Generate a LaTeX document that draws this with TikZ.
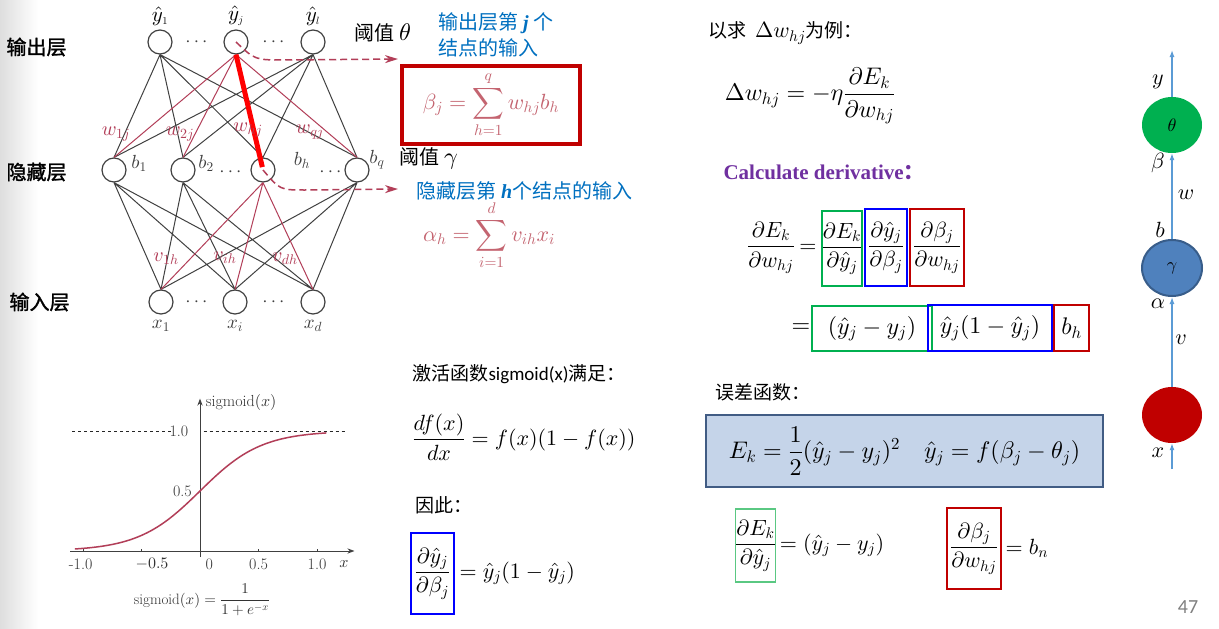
\documentclass[tikz,border=0pt]{standalone}
\usepackage{amsmath}
\usepackage{fontspec}
\DeclareFontShape{OML}{cmm}{m}{it}{<->cmmi10}{}
\DeclareFontShape{OMS}{cmsy}{m}{n}{<->cmsy10}{}
\DeclareFontShape{OMX}{cmex}{m}{n}{<->cmex10}{}
\DeclareFontShape{OT1}{cmr}{m}{n}{<->cmr10}{}
\newfontfamily\cjk{Noto Sans CJK SC}
\newfontfamily\cjkb[FakeBold=1.5]{Noto Sans CJK SC}
\newfontfamily\tnr{Liberation Serif}
\newfontfamily\carl{Carlito}
\usetikzlibrary{positioning, arrows.meta, shapes.geometric}
\definecolor{pptred}{RGB}{192,0,0}
\definecolor{pptblue}{RGB}{0,112,192}
\definecolor{boxblue}{RGB}{0,0,255}
\definecolor{boxgreen}{RGB}{0,176,80}
\definecolor{lightgreen}{RGB}{90,200,130}
\definecolor{wred}{RGB}{178,62,88}
\definecolor{fadered}{RGB}{196,100,112}
\definecolor{netgray}{RGB}{65,65,65}
\definecolor{purp}{RGB}{112,48,160}
\definecolor{fillblue}{RGB}{197,212,233}
\definecolor{edgeblue}{RGB}{65,92,132}
\definecolor{lineblue}{RGB}{91,155,213}
\definecolor{nodeblue}{RGB}{79,129,189}
\definecolor{nodeblueedge}{RGB}{56,93,138}
\tikzset{neuron/.style={circle, draw=netgray, line width=1.2pt, minimum size=24pt, inner sep=0pt},
  conn/.style={draw=netgray, line width=1pt},
  redconn/.style={draw=wred, line width=1pt},
  wlabel/.style={text=wred, font=\fontsize{20}{22}\selectfont},
  nlabel/.style={text=netgray, font=\fontsize{19}{22}\selectfont},
  layer/.style={anchor=west, font=\cjkb\fontsize{20}{24}\selectfont},
  hint/.style={anchor=west, text=pptblue, font=\cjk\fontsize{20}{26}\selectfont, align=left},
  plain/.style={anchor=west, font=\cjk\fontsize{19}{24}\selectfont},
  formula/.style={font=\fontsize{22}{26}\selectfont},
  mbox/.style={draw, line width=2.2pt, inner sep=0pt, font=\fontsize{22}{26}\selectfont},
  dasharrow/.style={draw=wred, dash pattern=on 7pt off 4pt, line width=1.5pt, -{Stealth[length=13pt,width=8pt]}},
  flow/.style={draw=lineblue, line width=1.3pt, -{Latex[length=7pt,width=5pt]}},
  unit/.style={ellipse, minimum width=60pt, minimum height=56pt, inner sep=0pt, font=\fontsize{18}{20}\selectfont}}

\begin{document}
\begin{tikzpicture}[x=1pt,y=-1pt]
\fill[white] (0,0) rectangle (1219,629);
\useasboundingbox (0,0) rectangle (1219,629);
\shade[left color=black!13, right color=white] (0,0) rectangle (38,629);

% layer names
\node[layer] (lout) at (3,47) {输出层};
\node[layer] (lhid) at (3,172) {隐藏层};
\node[layer] (lin) at (6,302) {输入层};

% neurons
\node[neuron] (y1) at (160,42) {};
\node[neuron] (yj) at (236,42) {};
\node[neuron] (yl) at (313,42) {};
\node[neuron] (b1) at (114,170) {};
\node[neuron] (b2) at (183,170) {};
\node[neuron] (bh) at (263,170) {};
\node[neuron] (bq) at (357,170) {};
\node[neuron] (x1) at (161,302) {};
\node[neuron] (xi) at (235,302) {};
\node[neuron] (xd) at (313,302) {};

\node[above=0pt of y1, font=\fontsize{21}{22}\selectfont] {$\hat y_{\scriptscriptstyle 1}$};
\node[above=0pt of yj, font=\fontsize{21}{22}\selectfont] {$\hat y_{\scriptscriptstyle j}$};
\node[above=0pt of yl, font=\fontsize{21}{22}\selectfont] {$\hat y_{\scriptscriptstyle l}$};
\node[nlabel] at (139,163) {$b_1$};
\node[nlabel] at (206,163) {$b_2$};
\node[nlabel] at (302,160) {$b_h$};
\node[nlabel] at (377,160) {$b_q$};
\node[nlabel, below=2pt of x1] {$x_1$};
\node[nlabel, below=2pt of xi] {$x_i$};
\node[nlabel, below=2pt of xd] {$x_d$};
\node[nlabel] at (198,42) {$\cdots$};
\node[nlabel] at (275,42) {$\cdots$};
\node[nlabel] at (232,172) {$\cdots$};
\node[nlabel] at (332,172) {$\cdots$};
\node[nlabel] at (198,302) {$\cdots$};
\node[nlabel] at (275,302) {$\cdots$};

% connections
\draw[conn] (y1.south) -- (b1.north)  (y1.south) -- (b2.north)  (y1.south) -- (bh.north)  (y1.south) -- (bq.north)
            (yl.south) -- (b1.north)  (yl.south) -- (b2.north)  (yl.south) -- (bh.north)  (yl.south) -- (bq.north)
            (b1.south) -- (x1.north)  (b1.south) -- (xi.north)  (b1.south) -- (xd.north)
            (b2.south) -- (x1.north)  (b2.south) -- (xi.north)  (b2.south) -- (xd.north)
            (bq.south) -- (x1.north)  (bq.south) -- (xi.north)  (bq.south) -- (xd.north);
\draw[redconn] (yj.south) -- (b1.north)  (yj.south) -- (b2.north)  (yj.south) -- (bq.north)
               (bh.south) -- (x1.north)  (bh.south) -- (xi.north)  (bh.south) -- (xd.north);
\draw[red, line width=5pt, shorten >=3pt] (yj.south) -- (bh.center);

\node[wlabel] at (116,134) {$w_{1j}$};
\node[wlabel] at (180,134) {$w_{2j}$};
\node[wlabel] at (248,130) {$w_{hj}$};
\node[wlabel] at (310,132) {$w_{qj}$};
\node[wlabel] at (166,259) {$v_{1h}$};
\node[wlabel] at (225,258) {$v_{ih}$};
\node[wlabel] at (285,259) {$v_{dh}$};

% inputs of j and h
\coordinate (betain) at (398,59);
\coordinate (alphain) at (398,189);
\draw[dasharrow] (yj.center) .. controls (255,60) .. (285,60) -- (betain);
\draw[dasharrow] (bh.center) .. controls (280,190) .. (305,190) -- (alphain);

\node[plain, font=\cjk\fontsize{20}{24}\selectfont] (thr1) at (351,33) {阈值 {\fontsize{24}{26}\selectfont$\theta$}};
\node[hint] (hj) at (435,35) {输出层第 {\tnr\bfseries\itshape j} 个\\结点的输入};
\node[draw=pptred, line width=4pt, minimum width=178pt, minimum height=78pt] (betabox) at (491,105) {};
\node[formula, text=fadered] (beta) at (betabox) {$\beta_j = \displaystyle\sum_{h=1}^{q} w_{hj} b_h$};
\node[plain, font=\cjk\fontsize{20}{24}\selectfont] (thr2) at (396,158) {阈值 {\fontsize{24}{26}\selectfont$\gamma$}};
\node[hint] (hh) at (413,191) {隐藏层第 {\tnr\bfseries\itshape h}个结点的输入};
\node[formula, text=fadered] (alpha) at (489,235) {$\alpha_h = \displaystyle\sum_{i=1}^{d} v_{ih} x_i$};

% sigmoid
\begin{scope}[shift={(200,551)}, x=117pt, y=120pt]
  \draw[dashed, black!85, line width=0.8pt] (-1.09,1) -- (-0.22,1)  (0.03,1) -- (1.26,1);
  \draw[black!75, line width=1pt, -{Stealth[length=7pt]}] (-1.11,0) -- (1.32,0);
  \draw[black!75, line width=1pt, -{Stealth[length=7pt]}] (0,-0.05) -- (0,1.27);
  \draw[black!75, line width=0.8pt] (-1,0) -- (-1,0.02)  (-0.5,0) -- (-0.5,0.02)  (0.5,0) -- (0.5,0.02)  (1,0) -- (1,0.02);
  \draw[wred, line width=1.5pt, domain=-1.07:1.08, samples=80] plot (\x, {1/(1+exp(-3.8*\x))});
  \node[font=\fontsize{16}{18}\selectfont, text=black!80, anchor=west] at (0.02,1.24) {sigmoid$(x)$};
  \node[font=\fontsize{16}{18}\selectfont, text=black!80] at (-0.18,1) {1.0};
  \node[font=\fontsize{16}{18}\selectfont, text=black!80] at (-0.15,0.5) {0.5};
  \node[font=\fontsize{16}{18}\selectfont, text=black!80] at (-1.02,-0.11) {-1.0};
  \node[font=\fontsize{16}{18}\selectfont, text=black!80] at (-0.41,-0.11) {$-0.5$};
  \node[font=\fontsize{16}{18}\selectfont, text=black!80] at (0.08,-0.11) {0};
  \node[font=\fontsize{16}{18}\selectfont, text=black!80] at (0.5,-0.11) {0.5};
  \node[font=\fontsize{16}{18}\selectfont, text=black!80] at (1.0,-0.11) {1.0};
  \node[font=\fontsize{16}{18}\selectfont, text=black!80] at (1.23,-0.11) {$x$};
\end{scope}
\node[font=\fontsize{15}{18}\selectfont, text=black!80] (sigdef) at (202,600) {sigmoid$(x) = \dfrac{1}{1+e^{-x}}$};

% middle column
\node[plain] (act) at (409,374) {激活函数{\carl sigmoid(x)}满足：};
\node[formula, anchor=west] (dfdx) at (409,437) {$\dfrac{df(x)}{dx} = f(x)(1-f(x))$};
\node[plain] (hence) at (412,505) {因此：};
\node[mbox, draw=boxblue, minimum width=43pt, minimum height=81pt] (dyb) at (432.5,573.5) {$\dfrac{\partial\hat y_j}{\partial\beta_j}$};
\node[formula, right=1pt of dyb] (dybval) {$=\hat y_j(1-\hat y_j)$};

% right column
\node[plain] (ask) at (705,33) {以求 \ {\fontsize{22}{24}\selectfont$\Delta w_{hj}$}为例：};
\node[formula, font=\fontsize{24}{28}\selectfont] (dw) at (810,96) {$\Delta w_{hj} = -\eta\dfrac{\partial E_k}{\partial w_{hj}}$};
\node[anchor=west, text=purp, font=\tnr\bfseries\fontsize{21}{24}\selectfont] (calc) at (720,172) {Calculate derivative{\cjk ：}};

\node[formula] (lhs) at (771,248) {$\dfrac{\partial E_k}{\partial w_{hj}}$};
\node[formula] (eq1) at (808,248) {$=$};
\node[mbox, draw=boxgreen, minimum width=40pt, minimum height=75pt] (g1) at (842,248.5) {$\dfrac{\partial E_k}{\partial\hat y_j}$};
\node[mbox, draw=boxblue, minimum width=42pt, minimum height=77pt] (bl1) at (886,247.5) {$\dfrac{\partial\hat y_j}{\partial\beta_j}$};
\node[mbox, draw=pptred, minimum width=54pt, minimum height=77pt] (r1) at (937,247.5) {$\dfrac{\partial\beta_j}{\partial w_{hj}}$};

\node[formula, font=\fontsize{24}{28}\selectfont] (eq2) at (801,328) {$=$};
\node[mbox, draw=boxgreen, minimum width=120pt, minimum height=45pt, font=\fontsize{24}{28}\selectfont] (g2) at (872,328.5) {$(\hat y_j - y_j)$};
\node[mbox, draw=boxblue, minimum width=124pt, minimum height=46pt, font=\fontsize{24}{28}\selectfont] (bl2) at (990,328) {$\hat y_j(1-\hat y_j)$};
\node[mbox, draw=pptred, minimum width=35pt, minimum height=46pt, font=\fontsize{24}{28}\selectfont] (r2) at (1071.5,328) {$b_h$};

\node[plain] (err) at (712,392) {误差函数：};
\node[draw=edgeblue, fill=fillblue, line width=2.5pt, minimum width=397pt, minimum height=72pt, font=\fontsize{24}{28}\selectfont] (ek) at (904.5,451) {$E_k = \dfrac{1}{2}(\hat y_j - y_j)^2 \quad \hat y_j = f(\beta_j - \theta_j)$};

\node[mbox, draw=lightgreen, line width=1.3pt, minimum width=39pt, minimum height=73pt] (g3) at (755.5,545.5) {$\dfrac{\partial E_k}{\partial\hat y_j}$};
\node[formula, right=0pt of g3] (g3val) {$=(\hat y_j - y_j)$};
\node[mbox, draw=pptred, minimum width=54pt, minimum height=81pt] (r3) at (974,548.5) {$\dfrac{\partial\beta_j}{\partial w_{hj}}$};
\node[formula, right=0pt of r3] (r3val) {$=b_n$};

% single path
\node[unit, fill=boxgreen] (theta) at (1172,125) {$\theta$};
\node[unit, fill=nodeblue, draw=nodeblueedge, line width=2pt] (gamma) at (1172,268) {$\gamma$};
\node[unit, fill=pptred] (xnode) at (1172,415) {};
\coordinate (xin) at (1172,469);
\coordinate (yout) at (1172,50);
\draw[flow] (xin) -- (xnode);
\draw[flow] (xnode) -- (gamma);
\draw[flow] (gamma) -- (theta);
\draw[flow] (theta) -- (yout);
\node[formula] at (1158,453) {$x$};
\node[formula] at (1181,340) {$v$};
\node[formula] at (1158,304) {$\alpha$};
\node[formula] at (1160,230) {$b$};
\node[formula] at (1186,195) {$w$};
\node[formula] at (1158,163) {$\beta$};
\node[formula] at (1158,82) {$y$};

\node[text=black!50, font=\carl\fontsize{20}{24}\selectfont] (page) at (1188,607) {47};
\end{tikzpicture}
\end{document}
